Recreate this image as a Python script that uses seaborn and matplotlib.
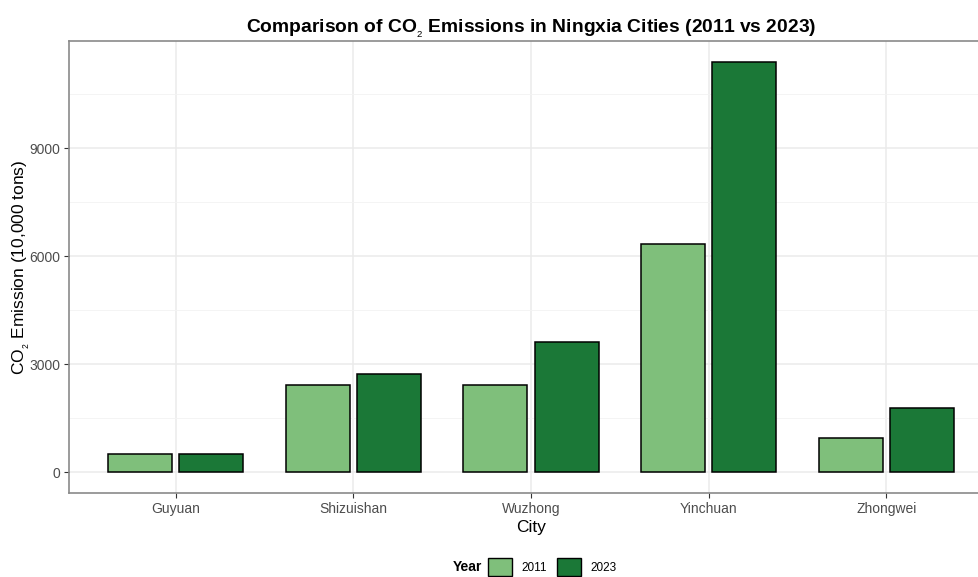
import pandas as pd
import seaborn as sns
import matplotlib.pyplot as plt
from matplotlib.patches import Patch
from matplotlib.ticker import MultipleLocator

# Data (10,000 tons)
cities = ["Guyuan", "Shizuishan", "Wuzhong", "Yinchuan", "Zhongwei"]
years = ["2011", "2023"]
emissions_2011 = [500, 2440, 2420, 6350, 970]
emissions_2023 = [500, 2735, 3630, 11410, 1795]
colors = ["#7fbf7b", "#1b7837"]

df = pd.DataFrame({
    "City": cities * 2,
    "Year": [years[0]] * len(cities) + [years[1]] * len(cities),
    "Emission": emissions_2011 + emissions_2023,
})

sns.set_theme(style="white")
plt.rcParams["font.family"] = ["Liberation Sans", "DejaVu Sans"]
plt.rcParams["mathtext.fontset"] = "custom"
plt.rcParams["mathtext.rm"] = "Liberation Sans"
plt.rcParams["text.color"] = "black"

fig = plt.figure(figsize=(9.79, 5.77), dpi=100)
ax = fig.add_axes([69 / 979, 1 - 493 / 577, 924 / 979, 452 / 577])

sns.barplot(data=df, x="City", y="Emission", hue="Year", palette=colors,
            saturation=1, width=0.8, gap=0.1, edgecolor="black", linewidth=1.1,
            legend=False, ax=ax, zorder=3)

# ggplot-like limits and grid
ymax = max(emissions_2023)
ax.set_ylim(-0.05 * ymax, 1.05 * ymax)
ax.set_xlim(-0.6, len(cities) - 0.4)
ax.yaxis.set_major_locator(MultipleLocator(3000))
ax.yaxis.set_minor_locator(MultipleLocator(1500))
ax.grid(True, which="major", color="#ebebeb", linewidth=1.1, zorder=0)
ax.grid(True, which="minor", axis="y", color="#f3f3f3", linewidth=0.6, zorder=0)
ax.set_axisbelow(True)

for s in ax.spines.values():
    s.set_color("#8a8a8a")
    s.set_linewidth(1.2)
ax.spines["right"].set_visible(False)

ax.tick_params(axis="both", which="major", length=3.5, width=0.8, color="#333333",
               labelsize=10, labelcolor="#4d4d4d", pad=3, bottom=True, left=True)
ax.tick_params(axis="y", which="minor", length=0)

ax.set_xlabel("City", fontsize=12.5, color="black", labelpad=3)
ax.set_ylabel("CO$_{_2}$ Emission (10,000 tons)", fontsize=12.5, color="black", labelpad=-2)
ax.set_title("Comparison of CO$_{_2}$ Emissions in Ningxia Cities (2011 vs 2023)",
             fontsize=13.9, fontweight="bold", color="black", pad=6, x=(531 - 69) / 924)

# bottom legend with title on the left
fig.text(482 / 979, 1 - 567 / 577, "Year", fontsize=10, fontweight="bold",
         color="black", ha="right", va="center")
handles = [Patch(facecolor=c, edgecolor="black", linewidth=1.0) for c in colors]
fig.legend(handles, years, loc="center left", bbox_to_anchor=(488 / 979, 1 - 567 / 577),
           ncol=2, frameon=False, fontsize=8.5, handlelength=2.0, handleheight=2.0,
           handletextpad=0.8, columnspacing=0.9, borderpad=0, borderaxespad=0)

fig.savefig("out.png", dpi=100)
